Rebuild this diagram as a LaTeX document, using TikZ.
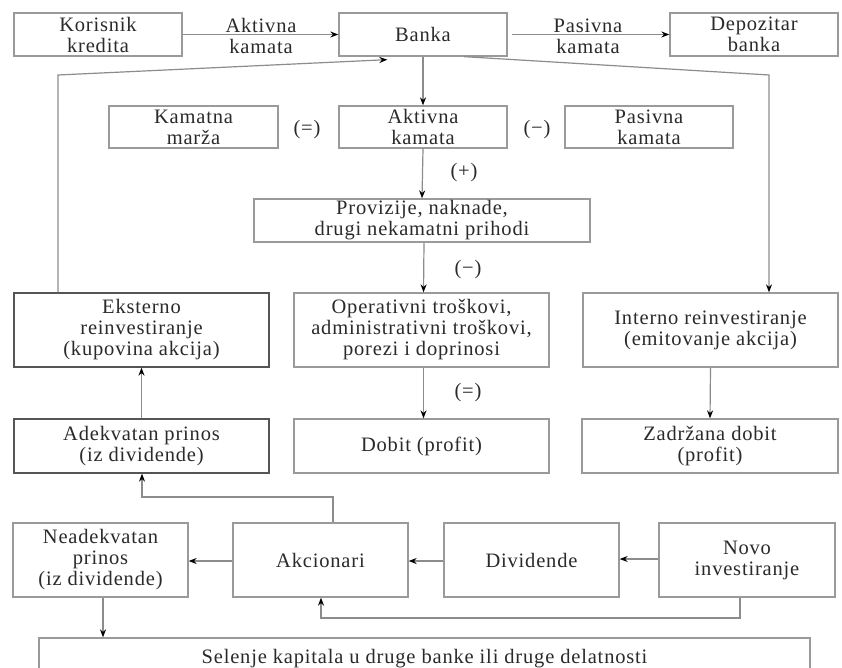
\documentclass[tikz,border=0pt]{standalone}
\usepackage{fontspec}
\setmainfont{Liberation Serif}[LetterSpace=4]
\usetikzlibrary{arrows.meta}
\definecolor{linegray}{HTML}{8C8C8C}
\definecolor{framegray}{HTML}{9A9A9A}
\definecolor{darkframe}{HTML}{555555}
\definecolor{txt}{HTML}{2A2A2A}
\tikzset{
  box/.style={draw=framegray, line width=1.3pt, inner sep=0pt, align=center,
    text=txt, font=\fontsize{20.5}{21}\selectfont},
  darkbox/.style={box, draw=darkframe},
  lbl/.style={text=txt, align=center, font=\fontsize{20.5}{21}\selectfont},
  conn/.style={draw=linegray, line width=1.2pt},
  arr/.style={conn, -{Stealth[black, length=8pt, width=6pt]}},
}
% a box given by its corners (x1,y1) and (x2,y2), in pixels, y downwards
\newcommand{\rbox}[7][box]{%
  \node[#1, minimum width={(#5-#3)*1pt}, minimum height={(#6-#4)*1pt}]
    (#2) at ({(#3+#5)/2},{(#4+#6)/2}) {#7};}
\begin{document}
\begin{tikzpicture}[x=1pt, y=-1pt]
\useasboundingbox (0,0) rectangle (842,668);
\fill[white] (0,0) rectangle (842,668);

% top row
\rbox{kor}{14}{13}{182}{56}{Korisnik\\kredita}
\rbox{banka}{339}{13}{507}{56}{Banka}
\rbox{dep}{670}{13}{838}{56}{Depozitar\\banka}
% interest margin row
\rbox{marza}{109}{106}{278}{148}{Kamatna\\marža}
\rbox{akt}{339}{106}{507}{148}{Aktivna\\kamata}
\rbox{pas}{565}{106}{733}{148}{Pasivna\\kamata}
\rbox{prov}{254}{199}{590}{242}{Provizije, naknade,\\drugi nekamatni prihodi}
% middle rows
\rbox[darkbox]{eks}{14}{293}{269}{367}{Eksterno\\reinvestiranje\\(kupovina akcija)}
\rbox{oper}{294}{293}{549}{367}{Operativni troškovi,\\administrativni troškovi,\\porezi i doprinosi}
\rbox{int}{583}{293}{838}{367}{Interno reinvestiranje\\(emitovanje akcija)}
\rbox[darkbox]{adek}{14}{419}{269}{473}{Adekvatan prinos\\(iz dividende)}
\rbox{dobit}{294}{419}{549}{473}{Dobit (profit)}
\rbox{zadr}{582}{419}{838}{473}{Zadržana dobit\\(profit)}
% bottom rows
\rbox{neadek}{13}{523}{188}{597}{Neadekvatan\\prinos\\(iz dividende)}
\rbox{akc}{233}{523}{408}{597}{Akcionari}
\rbox{div}{444}{523}{619}{597}{Dividende}
\rbox{novo}{659}{523}{835}{597}{Novo\\investiranje}
\rbox{sel}{39}{638}{810}{680}{Selenje kapitala u druge banke ili druge delatnosti}

% arrow labels and operation signs
\node[lbl] (l1) at (261,36) {Aktivna\\kamata};
\node[lbl] (l2) at (588,36) {Pasivna\\kamata};
\node[lbl] (s1) at (307,130) {(=)};
\node[lbl] (s2) at (537,130) {(−)};
\node[lbl] (s3) at (464,173) {(+)};
\node[lbl] (s4) at (468,270) {(−)};
\node[lbl] (s5) at (468,393) {(=)};

% bank flows
\draw[arr] (kor.east) -- (banka.west);
\draw[arr] (banka.east) ++(4,0) -- (dep.west);
\draw[arr] (banka.south) -- (akt.north);
\draw[arr] (akt.south) -- (prov.north);
\draw[arr] ([xshift=2pt]prov.south) -- ([xshift=2pt]oper.north);
\draw[arr] ([xshift=2pt]oper.south) -- ([xshift=2pt]dobit.north);

% reinvestment loops
\coordinate (ret) at ([shift={(49,3)}]banka.south west);
\draw[arr] (eks.north -| 58,0) -- (58,75) -- (ret);
\coordinate (bo) at ([xshift=41pt]banka.south);
\draw[arr] (bo) -- (769,75) -- (int.north -| 769,0);
\draw[arr] (int.south) -- (zadr.north);
\draw[arr] (adek.north) -- (eks.south);

% shareholders
\draw[arr] (akc.north -| 333,0) -- (333,497) -- (142,497) -- (adek.south -| 142,0);
\draw[arr] (akc.west |- 0,561) -- (neadek.east |- 0,561);
\draw[arr] (div.west |- 0,561) -- (akc.east |- 0,561);
\draw[arr] (novo.west |- 0,559) -- (div.east |- 0,559);
\draw[arr] (novo.south -| 740,0) -- (740,618) -- (321,618) -- (akc.south -| 321,0);
\draw[arr] (neadek.south -| 103,0) -- (sel.north -| 103,0);
\end{tikzpicture}
\end{document}
